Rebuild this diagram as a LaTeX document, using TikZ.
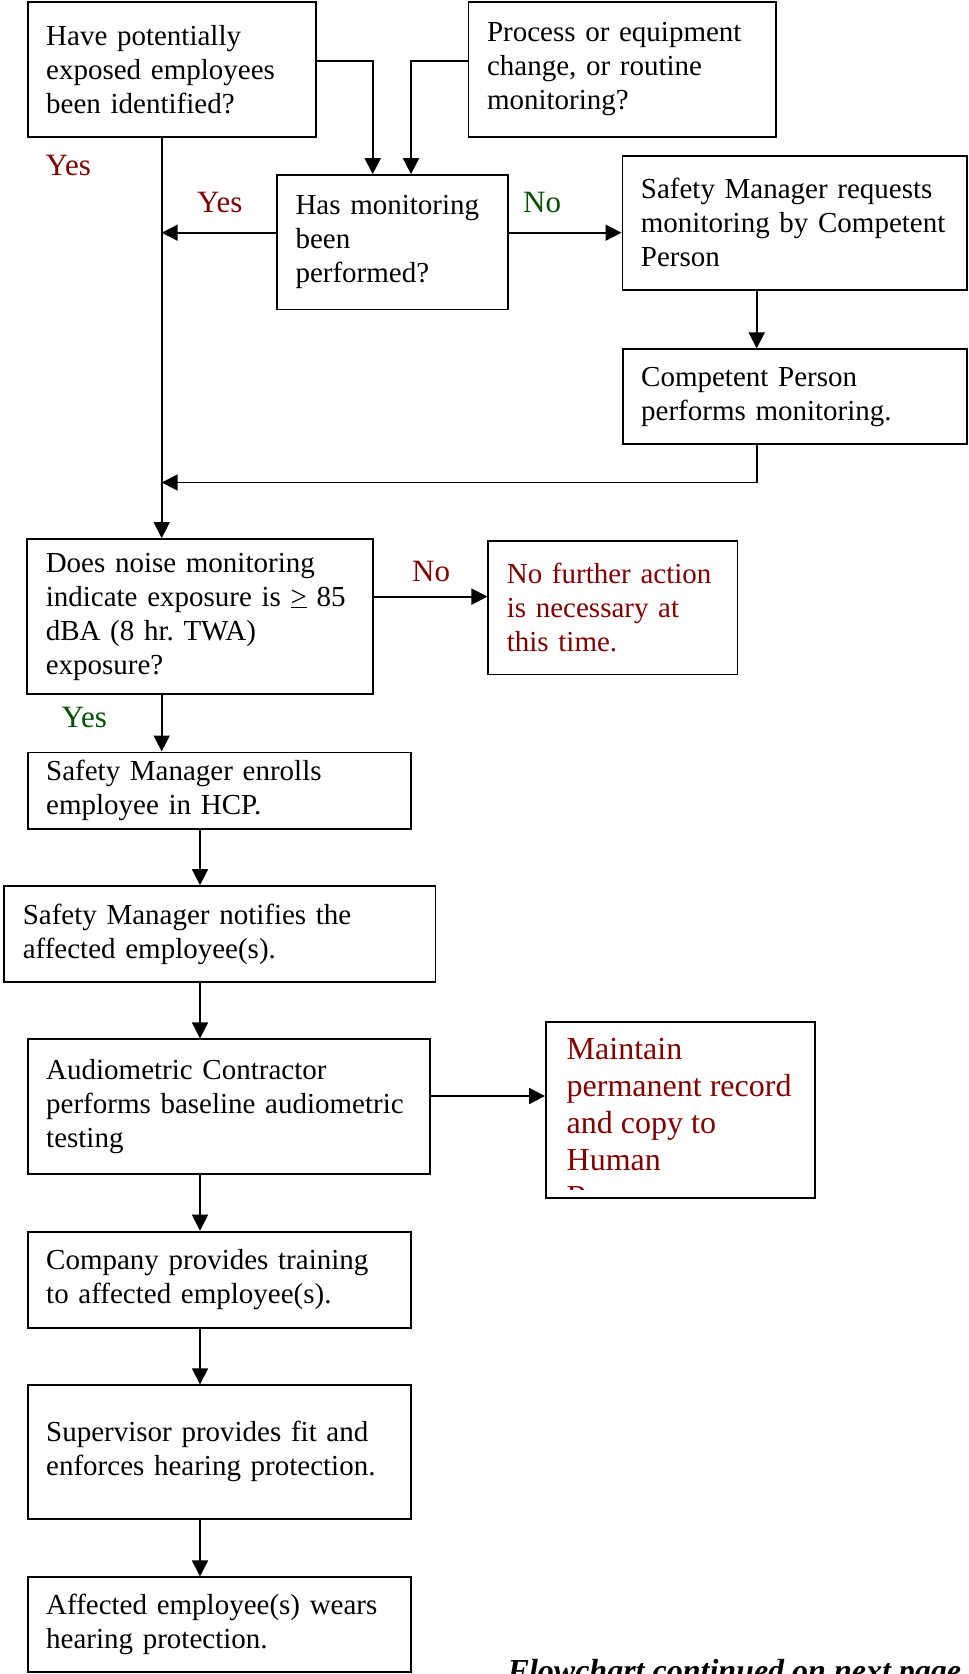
\documentclass[tikz,border=0pt]{standalone}
\usepackage{fontspec}
\setmainfont{Liberation Serif}
\usetikzlibrary{arrows.meta}
\definecolor{darkred}{RGB}{128,0,0}
\definecolor{darkgreen}{RGB}{0,80,0}
\frenchspacing

\begin{document}
\begin{tikzpicture}[x=1pt, y=-1pt,
  box/.style={draw, line width=1.8pt, rectangle, align=left, inner xsep=18.5pt, inner ysep=0pt,
    font=\fontsize{29}{34}\selectfont},
  lbl/.style={inner sep=0pt, font=\fontsize{31}{36}\selectfont},
  arr/.style={line width=1.8pt, -{Triangle[length=16pt, width=16pt]}}]

  \fill[white] (0,0) rectangle (969,1674);
  \useasboundingbox (0,0) rectangle (969,1674);

  % helper points for the connectors
  \coordinate (trunk)  at (161.7, 232.7);
  \coordinate (merge)  at (161.7, 482.5);
  \coordinate (col)    at (200, 0);
  \coordinate (retx)   at (756.7, 0);
  \coordinate (j1)     at (372.7, 61);
  \coordinate (j2)     at (411, 61);
  \coordinate (nolvl)  at (0, 596.6);
  \coordinate (reclvl) at (0, 1096);

  % top part
  \node[box, text width=251.2pt, minimum height=134.5pt] (ident) at (171.8, 69.5)
    {Have potentially\\exposed employees\\been identified?};
  \node[box, text width=270.4pt, minimum height=134.5pt] (change) at (622.2, 69.5)
    {Process or equipment\\change, or routine\\monitoring?};
  \node[box, text width=194pt, minimum height=134.5pt] (perf) at (392.5, 242.3)
    {Has monitoring\\been\\performed?};
  \node[box, text width=307.6pt, minimum height=134.3pt] (request) at (794.7, 222.85)
    {Safety Manager requests\\monitoring by Competent\\Person};
  \node[box, text width=307pt, minimum height=95pt] (perform) at (794.7, 396.8)
    {Competent Person\\performs monitoring.};

  % decision on exposure
  \node[box, text width=309pt, minimum height=155.3pt] (exposure) at (200.3, 616.7)
    {Does noise monitoring\\indicate exposure is \underline{>} 85\\dBA (8 hr. TWA)\\exposure?};
  \node[box, text=darkred, text width=212.1pt, minimum height=133.5pt] (noaction) at (612.9, 607.75)
    {No further action\\is necessary at\\this time.};

  % main column
  \node[box, text width=346.2pt, minimum height=76.6pt] (enroll) at (219.3, 790.7)
    {Safety Manager enrolls\\employee in HCP.};
  \node[box, text width=394.1pt, minimum height=96.3pt] (notify) at (219.85, 934.15)
    {Safety Manager notifies the\\affected employee(s).};
  \node[box, text width=365.4pt, minimum height=134.6pt] (baseline) at (228.9, 1106.6)
    {Audiometric Contractor\\performs baseline audiometric\\testing};
  \node[box, text width=346.2pt, minimum height=96pt] (training) at (219.3, 1279.6)
    {Company provides training\\to affected employee(s).};
  \node[box, text width=346.2pt, minimum height=133.4pt] (fit) at (219.3, 1451.9)
    {Supervisor provides fit and\\enforces hearing protection.};
  \node[box, text width=346.2pt, minimum height=95pt] (wears) at (219.3, 1624.8)
    {Affected employee(s) wears\\hearing protection.};

  % record box, its text runs over the bottom
  \begin{scope}
    \clip (546, 1021.7) rectangle (815, 1189);
    \node[anchor=north west, inner sep=0pt, text=darkred, align=left,
      font=\fontsize{32}{37}\selectfont] (rectext) at (566.5, 1038.3)
      {Maintain\\permanent record\\and copy to\\Human\\Resources};
  \end{scope}
  \node[draw, line width=1.8pt, minimum width=269pt, minimum height=176.6pt] (record) at (680.5, 1110) {};

  % connectors
  \draw[arr] (ident.south -| trunk) -- (exposure.north -| trunk);
  \draw[arr] (ident.east |- j1) -| (perf.north -| j1);
  \draw[arr] (change.west |- j2) -| (perf.north -| j2);
  \draw[arr] (perf.west |- trunk) -- (trunk);
  \draw[arr] (perf.east |- trunk) -- (request.west |- trunk);
  \draw[arr] (request.south -| retx) -- (perform.north -| retx);
  \draw[arr] (perform.south -| retx) |- (merge);
  \draw[arr] (exposure.east |- nolvl) -- (noaction.west |- nolvl);
  \draw[arr] (exposure.south -| trunk) -- (enroll.north -| trunk);
  \draw[arr] (enroll.south -| col) -- (notify.north -| col);
  \draw[arr] (notify.south -| col) -- (baseline.north -| col);
  \draw[arr] (baseline.east |- reclvl) -- (record.west |- reclvl);
  \draw[arr] (baseline.south -| col) -- (training.north -| col);
  \draw[arr] (training.south -| col) -- (fit.north -| col);
  \draw[arr] (fit.south -| col) -- (wears.north -| col);

  % branch labels
  \node[lbl, text=darkred]   (yes1) at (68.3, 165.4) {Yes};
  \node[lbl, text=darkred]   (yes2) at (219.8, 202.8) {Yes};
  \node[lbl, text=darkgreen] (no1)  at (542.1, 202.8) {No};
  \node[lbl, text=darkred]   (no2)  at (431.1, 571) {No};
  \node[lbl, text=darkgreen] (yes3) at (84.3, 717.2) {Yes};

  \node[anchor=base west, inner sep=0pt, font=\fontsize{32}{38}\selectfont\bfseries\itshape]
    (cont) at (507.5, 1681) {Flowchart continued on next page};
\end{tikzpicture}
\end{document}
